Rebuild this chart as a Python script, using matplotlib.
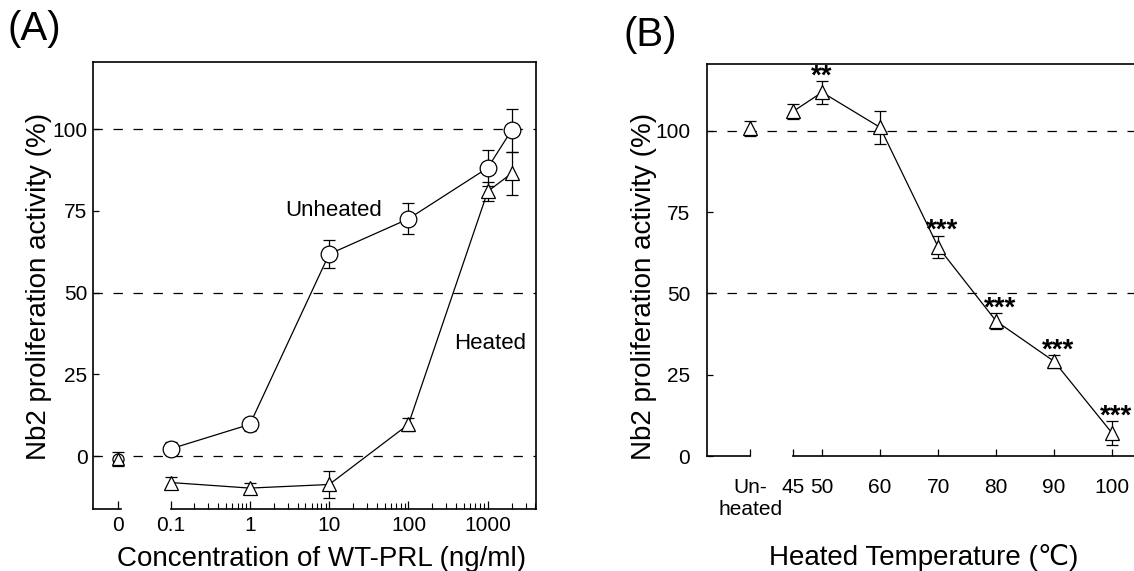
import matplotlib
matplotlib.use('Agg')
import matplotlib.pyplot as plt
from matplotlib.ticker import FixedLocator, NullFormatter

plt.rcParams['font.family'] = ['Liberation Sans', 'DejaVu Sans']

# ---------------- data: panel A ----------------
conc = [0.1, 1, 10, 100, 1000, 2000]          # ng/ml
unheated = [2.2, 9.7, 61.8, 72.6, 88.2, 99.7]
unheated_err = [2.0, 2.0, 4.2, 4.7, 5.5, 6.5]
heated = [-8.1, -9.8, -8.7, 9.7, 81.0, 86.5]
heated_err = [1.7, 1.5, 4.2, 2.0, 2.8, 6.5]
blank_val = -0.9                                # "0" concentration
blank_err = 2.0
conc_ticks = [0.1, 1, 10, 100, 1000]
conc_labels = ['0.1', '1', '10', '100', '1000']

# ---------------- data: panel B ----------------
temps = [45, 50, 60, 70, 80, 90, 100]
temp_val = [106.0, 111.9, 101.1, 64.3, 41.5, 29.1, 7.0]
temp_err = [2.2, 3.5, 5.0, 3.5, 2.4, 2.0, 3.7]
temp_sig = ['', '**', '', '***', '***', '***', '***']
ctrl_val = 100.8
ctrl_err = 2.3

W, H = 1134, 571
fig = plt.figure(figsize=(W / 100, H / 100), dpi=100)

line_kw = dict(color='black', lw=0.9)
err_kw = dict(ecolor='black', elinewidth=0.9, capsize=4, capthick=0.9)
dash_kw = dict(color='black', lw=0.9, dashes=(7.5, 8.5), zorder=0)

# ================= panel A =================
axA = fig.add_axes([93 / W, 1 - 509 / H, 443 / W, 447 / H])
zero_x = 0.0218   # where "0" concentration sits on the log axis
axA.set_xscale('log')
axA.set_xlim(0.0105, 4064)
axA.set_ylim(-16.2, 120.6)

for yv in (0, 50, 100):
    axA.axhline(yv, **dash_kw)

axA.errorbar(conc, unheated, yerr=unheated_err, fmt='none', zorder=2, **err_kw)
axA.plot(conc, unheated, marker='o', ms=12, mfc='white', mec='black', mew=0.9,
         zorder=3, **line_kw)
axA.errorbar(conc, heated, yerr=heated_err, fmt='none', zorder=2, **err_kw)
axA.plot(conc, heated, marker='^', ms=10, mfc='white', mec='black', mew=0.9,
         zorder=4, **line_kw)

# blank (0 ng/ml)
axA.errorbar([zero_x], [blank_val], yerr=[blank_err], fmt='none', zorder=2, **err_kw)
axA.plot([zero_x], [blank_val], marker='o', ms=8, mfc='white', mec='black',
         mew=0.9, ls='none', zorder=3)
axA.plot([zero_x], [blank_val], marker='^', ms=8, mfc='white', mec='black',
         mew=0.9, ls='none', zorder=4)

axA.text(11.5, 75.3, 'Unheated', fontsize=16, ha='center', va='center')
axA.text(1057, 34.5, 'Heated', fontsize=16, ha='center', va='center')

axA.xaxis.set_major_locator(FixedLocator([zero_x] + conc_ticks))
axA.set_xticklabels(['0'] + conc_labels)
minors = [m * 10.0 ** e for e in range(-1, 4) for m in range(2, 10)]
minors = [v for v in minors if v < 4064]
axA.xaxis.set_minor_locator(FixedLocator(minors))
axA.xaxis.set_minor_formatter(NullFormatter())
axA.set_yticks([0, 25, 50, 75, 100])

axA.tick_params(axis='both', which='both', direction='in', labelsize=15,
                top=False, right=False)
axA.tick_params(axis='x', which='major', length=6, width=0.9, pad=5)
axA.tick_params(axis='x', which='minor', length=4, width=0.8)
axA.tick_params(axis='y', length=4, width=0.9, pad=4)

axA.spines['bottom'].set_bounds(0.1, 4064)
axA.plot([0.0105, zero_x * 1.08], [-16.2, -16.2], color='black', lw=1.2,
         clip_on=False, zorder=5)
for sp in axA.spines.values():
    sp.set_linewidth(1.2)

axA.set_ylabel('Nb2 proliferation activity (%)', fontsize=20)
axA.yaxis.set_label_coords(-0.092, 0.497)
axA.set_xlabel('Concentration of WT-PRL (ng/ml)', fontsize=20)
axA.xaxis.set_label_coords(0.515, -0.082)

# ================= panel B =================
axB = fig.add_axes([707 / W, 1 - 456 / H, 429 / W, 392 / H])
ctrl_x = 37.6     # slot for the unheated control
axB.set_xlim(30.17, 104.1)
axB.set_ylim(0, 120.6)

for yv in (50, 100):
    axB.axhline(yv, **dash_kw)

axB.errorbar([ctrl_x], [ctrl_val], yerr=[ctrl_err], fmt='none', zorder=2, **err_kw)
axB.plot([ctrl_x], [ctrl_val], marker='^', ms=10, mfc='white', mec='black',
         mew=0.9, ls='none', zorder=3)
axB.errorbar(temps, temp_val, yerr=temp_err, fmt='none', zorder=2, **err_kw)
axB.plot(temps, temp_val, marker='^', ms=10, mfc='white', mec='black', mew=0.9,
         zorder=3, **line_kw)

for t, v, e, s in zip(temps, temp_val, temp_err, temp_sig):
    if s:
        axB.annotate(s, (t, v + e), xytext=(3 if len(s) == 3 else 0, -6),
                     textcoords='offset points', ha='center', va='bottom',
                     fontsize=20, fontweight='bold')

axB.set_xticks([ctrl_x] + temps)
axB.set_xticklabels(['Un-\nheated'] + [str(t) for t in temps])
axB.set_yticks([0, 25, 50, 75, 100])
axB.tick_params(axis='both', direction='in', labelsize=15, top=False, right=False)
axB.tick_params(axis='x', length=5, width=0.9, pad=16)
axB.tick_params(axis='y', length=4, width=0.9, pad=12)

axB.spines['right'].set_visible(False)
axB.spines['bottom'].set_bounds(temps[0], 104.1)
axB.plot([30.17, ctrl_x], [0, 0], color='black', lw=1.2, clip_on=False, zorder=5)
for sp in axB.spines.values():
    sp.set_linewidth(1.2)

axB.set_ylabel('Nb2 proliferation activity (%)', fontsize=20)
axB.yaxis.set_label_coords(-0.116, 0.432)
axB.set_xlabel('Heated Temperature (\u2103)', fontsize=20)
axB.xaxis.set_label_coords(0.506, -0.225)

fig.text(8 / W, 1 - 10 / H, '(A)', fontsize=29, ha='left', va='top')
fig.text(624 / W, 1 - 16 / H, '(B)', fontsize=29, ha='left', va='top')

fig.savefig('out.png', dpi=100)
